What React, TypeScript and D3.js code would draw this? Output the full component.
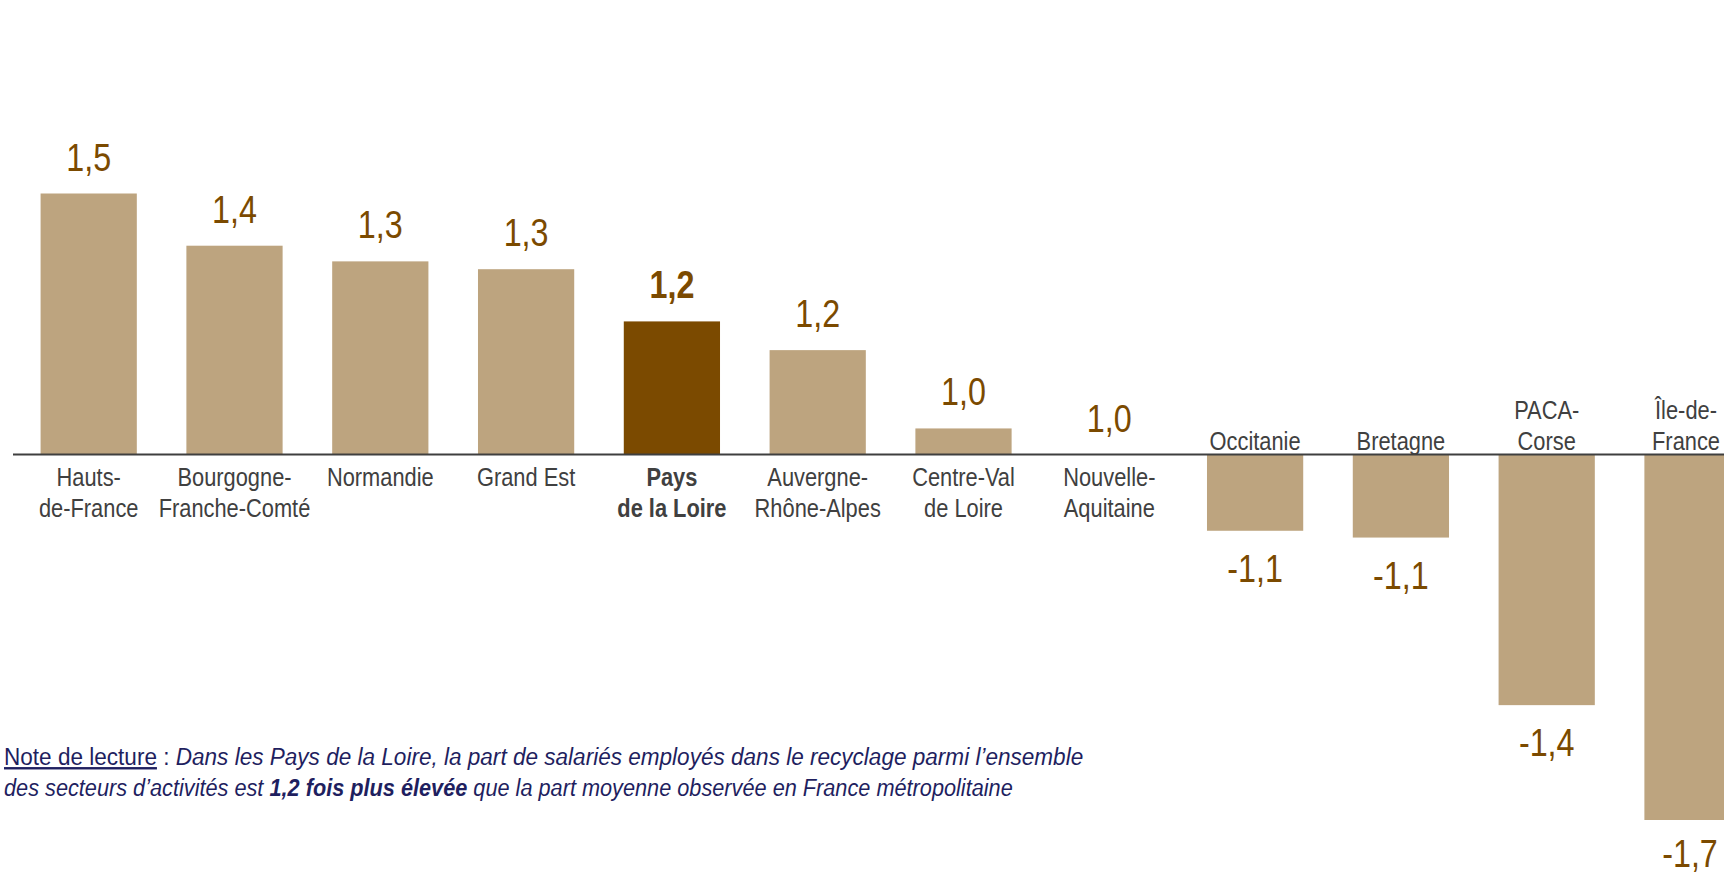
import * as d3 from 'd3';

// Régions, de la plus sur-représentée à la plus sous-représentée
const regions: string[][] = [
  ['Hauts-', 'de-France'],
  ['Bourgogne-', 'Franche-Comté'],
  ['Normandie'],
  ['Grand Est'],
  ['Pays', 'de la Loire'],
  ['Auvergne-', 'Rhône-Alpes'],
  ['Centre-Val', 'de Loire'],
  ['Nouvelle-', 'Aquitaine'],
  ['Occitanie'],
  ['Bretagne'],
  ['PACA-', 'Corse'],
  ['Île-de-', 'France'],
];

// Indices affichés
const indices = ['1,5', '1,4', '1,3', '1,3', '1,2', '1,2', '1,0', '1,0', '-1,1', '-1,1', '-1,4', '-1,7'];

// Longueur des barres (écart à la moyenne)
const ecarts = [0.5, 0.4, 0.37, 0.355, 0.255, 0.2, 0.05, 0, -0.146, -0.159, -0.48, -0.7];

const regionMiseEnAvant = 4;

const W = 1724;
const H = 876;
// pas de police étroite installée : on comprime horizontalement
const FONT = '"Liberation Sans", Arial, sans-serif';
const ETROIT_VAL = 0.85;
const ETROIT_LIB = 0.84;

export default function App() {
  const x = d3.scaleBand<number>()
    .domain(d3.range(regions.length))
    .range([15.8, 1765.4])
    .paddingInner(0.34)
    .paddingOuter(0.17);

  const y = d3.scaleLinear()
    .domain([-0.7, 0.5])
    .range([820, 193.5]);

  const y0 = y(0);
  const centre = (i: number, marge: number) =>
    Math.min(x(i)! + x.bandwidth() / 2, W - marge);

  return (
    <svg width={W} height={H} style={{ position: 'absolute', left: 0, top: 0, background: '#fff' }}>
      {/* barres */}
      {ecarts.map((v, i) => (
        <rect
          key={'b' + i}
          x={x(i)}
          y={Math.min(y(v), y0)}
          width={x.bandwidth()}
          height={Math.abs(y(v) - y0)}
          fill={i === regionMiseEnAvant ? '#7b4a00' : '#bda47f'}
        />
      ))}

      {/* axe */}
      <line x1={13} x2={W} y1={y0} y2={y0} stroke="#3f3f3f" strokeWidth={2} />

      {/* valeurs */}
      {ecarts.map((v, i) => (
        <text
          key={'v' + i}
          transform={`translate(${centre(i, 34)},${v >= 0 ? y(v) - 23 : Math.min(y(v) + 51, H - 9)}) scale(${ETROIT_VAL},1)`}
          textAnchor="middle"
          fontFamily={FONT}
          fontSize={38}
          fontWeight={i === regionMiseEnAvant ? 'bold' : 'normal'}
          fill="#7b4a00"
        >
          {indices[i]}
        </text>
      ))}

      {/* libellés */}
      {regions.map((lignes, i) => {
        const neg = ecarts[i] < 0;
        return (
          <text
            key={'l' + i}
            transform={`translate(${centre(i, 38)},0) scale(${ETROIT_LIB},1)`}
            textAnchor="middle"
            fontFamily={FONT}
            fontSize={26}
            fontWeight={i === regionMiseEnAvant ? 'bold' : 'normal'}
            fill="#404040"
          >
            {lignes.map((l, j) => (
              <tspan
                key={j}
                x={0}
                y={neg ? y0 - 5 - (lignes.length - 1 - j) * 31 : y0 + 31 + j * 31}
              >
                {l}
              </tspan>
            ))}
          </text>
        );
      })}

      {/* note de lecture */}
      <g fontFamily={FONT} fontSize={24} fill="#1f1f5f">
        <text transform="translate(4,765) scale(0.94,1)">
          <tspan textDecoration="underline">Note de lecture</tspan>
          <tspan> : </tspan>
          <tspan fontStyle="italic">
            Dans les Pays de la Loire, la part de salariés employés dans le recyclage parmi l’ensemble
          </tspan>
        </text>
        <text transform="translate(4,796) scale(0.905,1)" fontStyle="italic">
          <tspan>des secteurs d’activités est </tspan>
          <tspan fontWeight="bold">1,2 fois plus élevée</tspan>
          <tspan> que la part moyenne observée en France métropolitaine</tspan>
        </text>
      </g>
    </svg>
  );
}
